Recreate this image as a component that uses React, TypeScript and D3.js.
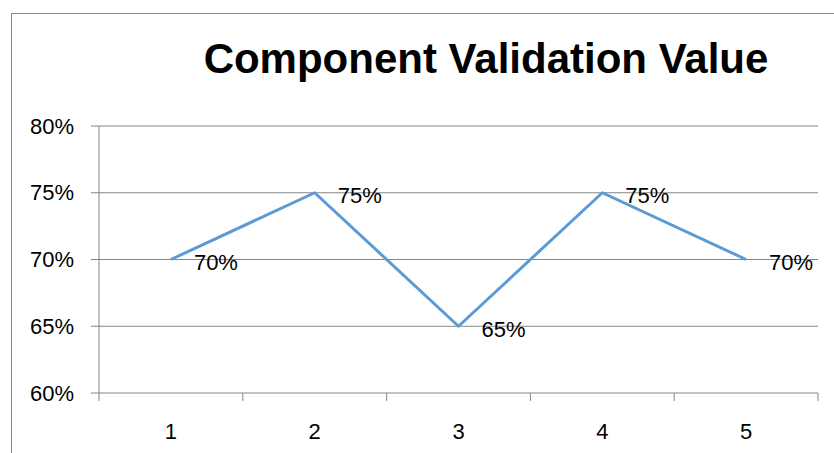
import * as d3 from 'd3';

const categories = ['1', '2', '3', '4', '5'];
const values = [0.7, 0.75, 0.65, 0.75, 0.7];
const yTicks = [0.6, 0.65, 0.7, 0.75, 0.8];
const title = 'Component Validation Value';

const width = 834;
const height = 453;
const font = "'Liberation Sans', Arial, sans-serif";

export default function App() {
  const left = 99;
  const right = 818;
  const top = 126;
  const bottom = 393;

  const x = d3.scaleBand().domain(categories).range([left, right]);
  const y = d3.scaleLinear().domain([0.6, 0.8]).range([bottom, top]);
  const pct = d3.format('.0%');

  const line = d3
    .line<number>()
    .x((_, i) => x(categories[i])! + x.bandwidth() / 2)
    .y((d) => y(d));

  const edges = [...categories.map((c) => x(c)!), right];

  return (
    <svg
      width={width}
      height={height}
      style={{ position: 'absolute', left: 0, top: 0, background: '#fff' }}
    >
      <rect x={11.5} y={13.5} width={840} height={460} fill="#fff" stroke="#888" />
      <text
        x={486}
        y={73}
        textAnchor="middle"
        fontFamily={font}
        fontWeight="bold"
        fontSize={42}
        fill="#000"
      >
        {title}
      </text>

      {yTicks.map((t) => (
        <g key={t}>
          <line x1={left - 8} x2={right} y1={y(t)} y2={y(t)} stroke="#868686" strokeWidth={1} />
          <text
            x={74}
            y={y(t)}
            dy="0.35em"
            textAnchor="end"
            fontFamily={font}
            fontSize={22}
            fill="#000"
          >
            {pct(t)}
          </text>
        </g>
      ))}

      <line x1={left} x2={left} y1={top} y2={bottom} stroke="#868686" />
      {edges.map((e, i) => (
        <line key={i} x1={e} x2={e} y1={bottom} y2={bottom + 8} stroke="#868686" />
      ))}
      {categories.map((c) => (
        <text
          key={c}
          x={x(c)! + x.bandwidth() / 2}
          y={431}
          dy="0.35em"
          textAnchor="middle"
          fontFamily={font}
          fontSize={22}
          fill="#000"
        >
          {c}
        </text>
      ))}

      <path d={line(values)!} fill="none" stroke="#5B9BD5" strokeWidth={3} strokeLinejoin="round" />

      {values.map((v, i) => (
        <text
          key={i}
          x={x(categories[i])! + x.bandwidth() / 2 + 23}
          y={y(v) + 3}
          dy="0.35em"
          fontFamily={font}
          fontSize={22}
          fill="#000"
        >
          {pct(v)}
        </text>
      ))}
    </svg>
  );
}
